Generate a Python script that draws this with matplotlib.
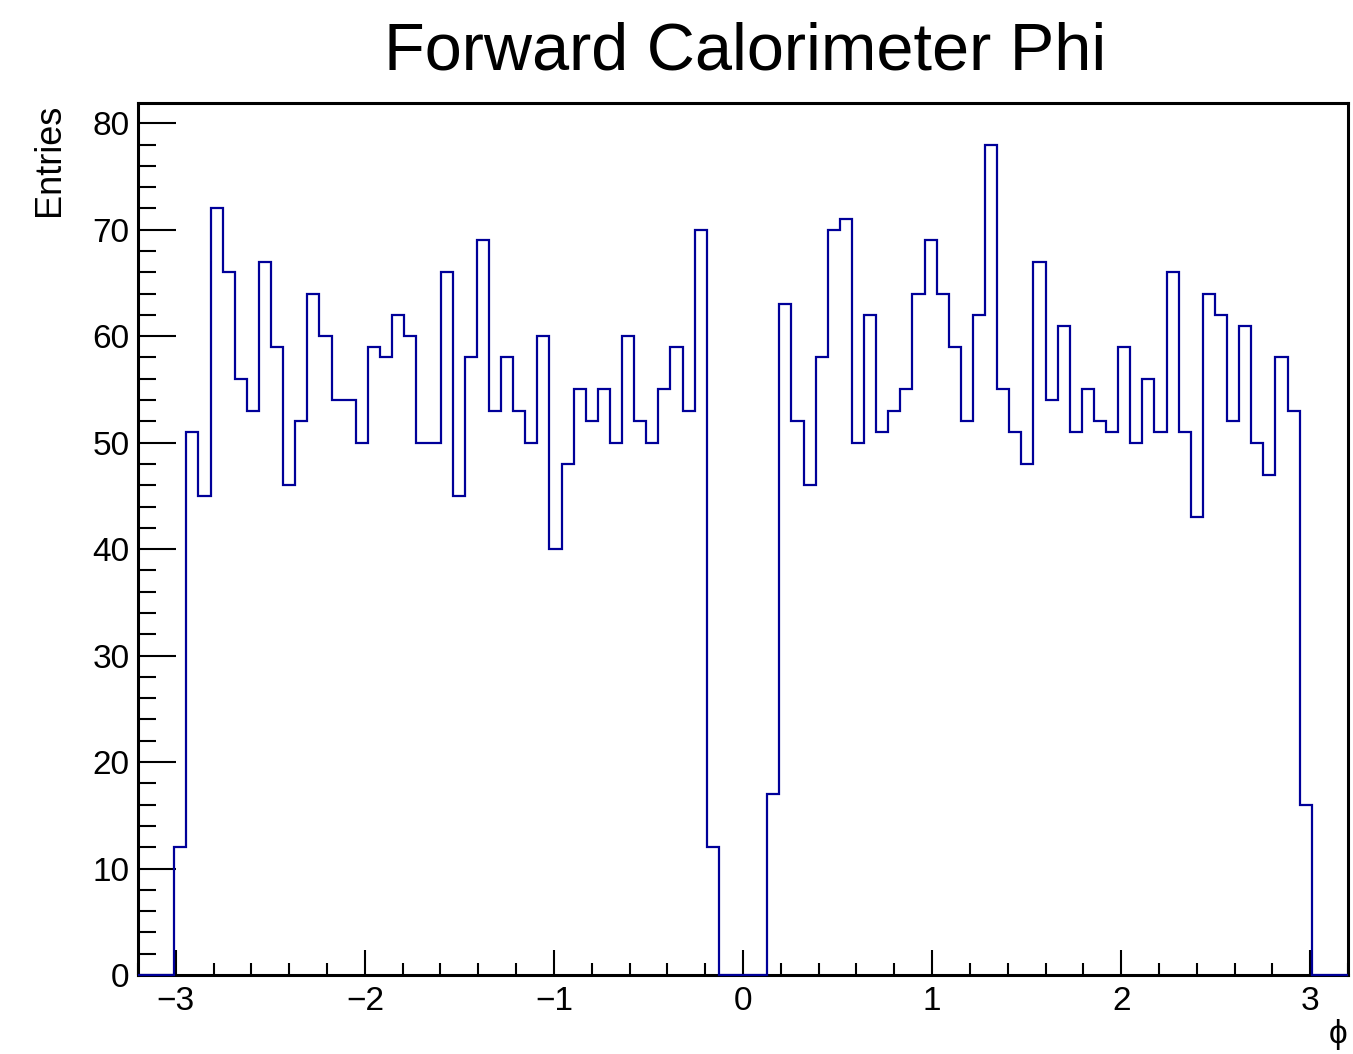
import matplotlib
matplotlib.use("Agg")
import matplotlib.pyplot as plt
import numpy as np
from matplotlib.ticker import MultipleLocator

plt.rcParams['font.family'] = ['Liberation Sans', 'DejaVu Sans']

# phi histogram, 100 bins from -3.2 to 3.2
x_lo, x_hi, n_bins = -3.2, 3.2, 100
counts = [0, 0, 0, 12, 51, 45, 72, 66, 56, 53,
          67, 59, 46, 52, 64, 60, 54, 54, 50, 59,
          58, 62, 60, 50, 50, 66, 45, 58, 69, 53,
          58, 53, 50, 60, 40, 48, 55, 52, 55, 50,
          60, 52, 50, 55, 59, 53, 70, 12, 0, 0,
          0, 0, 17, 63, 52, 46, 58, 70, 71, 50,
          62, 51, 53, 55, 64, 69, 64, 59, 52, 62,
          78, 55, 51, 48, 67, 54, 61, 51, 55, 52,
          51, 59, 50, 56, 51, 66, 51, 43, 64, 62,
          52, 61, 50, 47, 58, 53, 16, 0, 0, 0]
title = "Forward Calorimeter Phi"
xlabel = "\u03d5"
ylabel = "Entries"

edges = np.linspace(x_lo, x_hi, n_bins + 1)

fig = plt.figure(figsize=(13.53, 10.54), dpi=100)
ax = fig.add_axes([138/1353, 1 - 975/1054, 1210/1353, 872/1054])

ax.stairs(counts, edges, color='#000099', lw=1.6, zorder=3, clip_on=False)

ax.set_xlim(x_lo, x_hi)
ax.set_ylim(0, 1.05 * max(counts))

ax.xaxis.set_major_locator(MultipleLocator(1))
ax.xaxis.set_minor_locator(MultipleLocator(0.2))
ax.yaxis.set_major_locator(MultipleLocator(10))
ax.yaxis.set_minor_locator(MultipleLocator(2))

ax.tick_params(axis='x', which='major', direction='in', length=18, width=1.5, labelsize=24, pad=8)
ax.tick_params(axis='x', which='minor', direction='in', length=9, width=1.5)
ax.tick_params(axis='y', which='major', direction='in', length=27, width=1.5, labelsize=24, pad=6)
ax.tick_params(axis='y', which='minor', direction='in', length=13, width=1.5)

for s in ax.spines.values():
    s.set_linewidth(2.2)

fig.text(745/1353, 1 - 70/1054, title, ha='center', va='baseline', fontsize=48)
fig.text(50/1353, 1 - 104/1054, ylabel, rotation=90, ha='center', va='top', fontsize=26)
fig.text(1347/1353, 1 - 1050/1054, xlabel, ha='right', va='bottom', fontsize=24)

plt.savefig('out.png', dpi=100)
